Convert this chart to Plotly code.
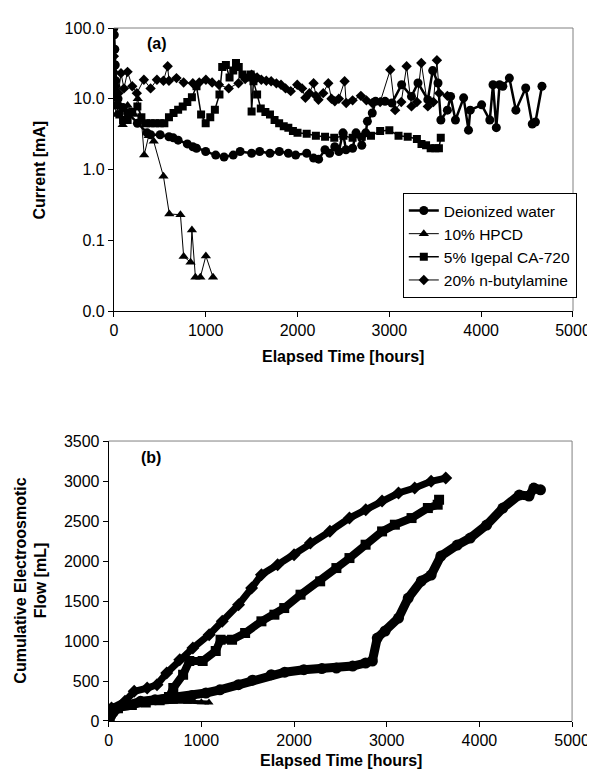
import plotly.graph_objects as go

# ---------- Panel (a): current vs elapsed time ----------
dw_t = [0, 5, 10, 15, 20, 30, 45, 100, 150, 256, 362, 400, 504, 600, 647, 700, 800, 860, 900, 1000,
        1109, 1200, 1300, 1375, 1500, 1588, 1700, 1802, 1900, 1980, 2100, 2175, 2230, 2299, 2350, 2406,
        2450, 2495, 2528, 2600, 2637, 2700, 2743, 2761, 2814, 2850, 2953, 3028, 3134, 3241, 3312, 3419,
        3472, 3530, 3561, 3632, 3667, 3720, 3809, 3862, 3881, 4005, 4094, 4129, 4165, 4200, 4236, 4307,
        4378, 4485, 4556, 4591, 4662]
dw_i = [100, 80, 50, 30, 18, 12, 10, 7.5, 6.3, 4.5, 3.3, 3.1, 3.1, 2.9, 2.8, 2.6, 2.3, 2.1, 2.0, 1.8,
        1.6, 1.5, 1.6, 1.8, 1.7, 1.8, 1.7, 1.8, 1.7, 1.6, 1.7, 1.45, 1.4, 1.9, 1.7, 2.1,
        1.8, 3.3, 1.9, 2.0, 3.3, 2.2, 3.3, 4.8, 6.3, 9.2, 9.2, 8.7, 15.8, 10.8, 16.7, 9.7,
        25, 16.7, 5.0, 6.9, 10.8, 5.0, 10.3, 3.6, 6.9, 8.2, 5.0, 15.8, 3.9, 15.8, 15, 19.6,
        6.9, 14.2, 4.4, 4.7, 15]

hp_t = [0, 10, 25, 50, 96, 150, 220, 260, 300, 330, 380, 434, 540, 604, 725, 760, 835, 850, 888, 942, 1002, 1080]
hp_i = [25, 10, 6, 8, 4.3, 8, 6, 10, 5, 1.6, 3, 2.5, 0.8, 0.235, 0.23, 0.059, 0.049, 0.14, 0.03, 0.03, 0.06, 0.03]

sq_t = [0, 10, 30, 60, 100, 150, 200, 256, 300, 350, 400, 450, 500, 550, 600, 650, 700, 750, 800, 850,
        900, 950, 1000, 1050, 1100, 1150, 1180, 1220, 1260, 1300, 1330, 1360, 1400, 1450, 1490, 1500,
        1520, 1560, 1600, 1650, 1700, 1750, 1800, 1850, 1900, 1950, 2000, 2100, 2200, 2300, 2400, 2500,
        2600, 2700, 2800, 2900, 3000, 3100, 3200, 3300, 3350, 3400, 3450, 3500, 3540, 3560]
sq_i = [30, 12, 8, 6, 5, 5, 6.5, 7.8, 5.5, 4.5, 4.5, 4.5, 4.5, 4.5, 5.5, 6.3, 7.0, 7.8, 9.0, 10.5,
        15, 6, 4.5, 5.5, 7, 11.5, 28, 30, 20, 25, 32, 28, 22, 20, 22, 6.6,
        17.7, 11.5, 7.3, 6.5, 6.0, 5.0, 4.5, 4.1, 3.9, 3.5, 3.3, 3.2, 3.0, 2.9, 2.8, 3.0,
        2.8, 2.9, 3.0, 3.5, 3.6, 3.0, 2.9, 2.7, 2.3, 2.2, 2.0, 2.0, 2.0, 2.8]

dm_t = [0, 20, 50, 78, 110, 149, 200, 250, 327, 400, 469, 540, 586, 600, 682, 760, 860, 930, 1002, 1070,
        1144, 1251, 1357, 1430, 1500, 1560, 1606, 1660, 1713, 1770, 1820, 1870, 1926, 1997, 2050, 2086,
        2130, 2175, 2200, 2228, 2280, 2335, 2370, 2406, 2450, 2513, 2530, 2600, 2690, 2750, 2814, 2900,
        3010, 3063, 3130, 3188, 3241, 3300, 3348, 3419, 3480, 3518, 3543, 3632]
dm_i = [40, 15, 12, 23, 14, 24, 15, 12, 18.6, 14, 18.6, 18, 28.8, 18, 19.6, 17, 16.6, 17, 18.6, 17,
        15.8, 14, 16.6, 19, 21.8, 20, 18.6, 18, 17.7, 16.5, 15.8, 14, 12.8, 15.8, 14, 10.3,
        12, 16.6, 11, 9.7, 12, 16.6, 10, 9.2, 10, 17.7, 8.7, 9.5, 11, 9.5, 8.7, 9,
        25.7, 6.9, 9, 28.8, 7.8, 9, 32, 7.8, 9, 35, 12, 11]

# ---------- Panel (b): cumulative electroosmotic flow ----------
dwb_t = [0, 20, 50, 99, 200, 344, 500, 697, 900, 1049, 1200, 1400, 1550, 1754, 1900, 2106, 2300, 2457,
         2633, 2772, 2845, 2898, 2983, 3127, 3232, 3373, 3479, 3584, 3761, 3901, 4078, 4253, 4430, 4535,
         4588, 4659]
dwb_v = [0, 60, 110, 162, 200, 246, 265, 287, 320, 350, 390, 454, 510, 579, 610, 641, 655, 662,
         687, 725, 750, 1037, 1125, 1287, 1537, 1750, 1825, 2062, 2200, 2287, 2450, 2662, 2825, 2812,
         2912, 2890]

hpb_t = [0, 20, 60, 150, 300, 500, 700, 850, 1000, 1082]
hpb_v = [0, 90, 140, 180, 210, 230, 240, 240, 235, 230]

sqb_t = [0, 30, 100, 250, 400, 550, 650, 697, 803, 870, 1014, 1155, 1207, 1331, 1472, 1648, 1788, 1894,
         2070, 2282, 2457, 2598, 2772, 2950, 3088, 3268, 3444, 3550, 3565]
sqb_v = [0, 120, 160, 200, 230, 260, 300, 412, 579, 750, 750, 875, 1016, 1016, 1100, 1246, 1329, 1412,
         1579, 1746, 1912, 2037, 2204, 2370, 2454, 2537, 2662, 2704, 2766]

dmb_t = [0, 30, 176, 275, 415, 521, 626, 767, 908, 1084, 1225, 1401, 1542, 1648, 1823, 2000, 2176, 2387,
         2598, 2774, 2950, 3127, 3302, 3479, 3637]
dmb_v = [0, 162, 246, 371, 412, 454, 600, 766, 912, 1079, 1246, 1454, 1662, 1829, 1954, 2079, 2225, 2371,
         2537, 2641, 2750, 2850, 2912, 2996, 3037]

names = ["Deionized water", "10% HPCD", "5% Igepal CA-720", "20% n-butylamine"]
x_ticks = [0, 1000, 2000, 3000, 4000, 5000]
ya_vals = [0.01, 0.1, 1, 10, 100]
ya_text = ["0.0", "0.1", "1.0", "10.0", "100.0"]
yb_ticks = [0, 500, 1000, 1500, 2000, 2500, 3000, 3500]

FONT = "Liberation Sans, Arial, sans-serif"
fig = go.Figure()

# panel (a)
fig.add_trace(go.Scatter(x=dw_t, y=dw_i, name=names[0], mode="lines+markers",
                         line=dict(color="black", width=2.5),
                         marker=dict(symbol="circle", size=9, color="black"), xaxis="x", yaxis="y"))
fig.add_trace(go.Scatter(x=hp_t, y=hp_i, name=names[1], mode="lines+markers",
                         line=dict(color="black", width=1),
                         marker=dict(symbol="triangle-up", size=9, color="black"), xaxis="x", yaxis="y"))
fig.add_trace(go.Scatter(x=sq_t, y=sq_i, name=names[2], mode="lines+markers",
                         line=dict(color="black", width=1.5),
                         marker=dict(symbol="square", size=8, color="black"), xaxis="x", yaxis="y"))
fig.add_trace(go.Scatter(x=dm_t, y=dm_i, name=names[3], mode="lines+markers",
                         line=dict(color="black", width=1),
                         marker=dict(symbol="diamond", size=8, color="black"), xaxis="x", yaxis="y"))

# panel (b)
for tt, vv, sym, w, sz in [(dwb_t, dwb_v, "circle", 9, 11), (hpb_t, hpb_v, "triangle-up", 4, 8),
                           (sqb_t, sqb_v, "square", 8, 10), (dmb_t, dmb_v, "diamond", 7, 10)]:
    fig.add_trace(go.Scatter(x=tt, y=vv, mode="lines+markers", showlegend=False,
                             line=dict(color="black", width=w),
                             marker=dict(symbol=sym, size=sz, color="black"), xaxis="x2", yaxis="y2"))

axis_common = dict(showgrid=False, zeroline=False, showline=True, linecolor="black", linewidth=1,
                   ticks="outside", ticklen=5, tickcolor="black",
                   tickfont=dict(family=FONT, size=16, color="black"))

fig.update_layout(
    width=595, height=772,
    margin=dict(l=100, r=20, t=20, b=59),
    paper_bgcolor="white", plot_bgcolor="white",
    font=dict(family=FONT, size=16, color="black"),
    xaxis=dict(domain=[0.0126, 1.0], range=[0, 5000], tickvals=x_ticks, anchor="y", **axis_common),
    yaxis=dict(domain=[0.5916, 1.0], type="log", range=[-2, 2], tickvals=ya_vals, ticktext=ya_text,
               anchor="x", **axis_common),
    xaxis2=dict(domain=[0.0015, 0.998], range=[0, 5000], tickvals=x_ticks, anchor="y2", **axis_common),
    yaxis2=dict(domain=[0.0, 0.404], range=[0, 3500], tickvals=yb_ticks, anchor="x2", **axis_common),
    legend=dict(x=0.634, y=0.762, xanchor="left", yanchor="top", bgcolor="white",
                bordercolor="black", borderwidth=1, font=dict(family=FONT, size=15.5, color="black"),
                tracegroupgap=0, itemsizing="trace"),
    showlegend=True,
)

# gray top / right borders of plot areas
for xr, yr in [("x domain", "y domain"), ("x2 domain", "y2 domain")]:
    fig.add_shape(type="line", xref=xr, yref=yr, x0=0, x1=1, y0=1, y1=1, line=dict(color="#808080", width=1))
    fig.add_shape(type="line", xref=xr, yref=yr, x0=1, x1=1, y0=0, y1=1, line=dict(color="#808080", width=1))

C = dict(xanchor="center", yanchor="middle", showarrow=False, font=dict(size=16))
ann = [
    dict(text="<b>(a)</b>", xref="paper", yref="paper", x=(150 - 100) / 475, y=(713 - 36) / 693, **C),
    dict(text="<b>(b)</b>", xref="paper", yref="paper", x=(144 - 100) / 475, y=(713 - 450) / 693, **C),
    dict(text="<b>Current [mA]</b>", xref="paper", yref="paper", x=(30 - 100) / 475, y=(713 - 162) / 693,
         textangle=-90, **C),
    dict(text="<b>Elapsed Time [hours]</b>", xref="paper", yref="paper", x=(340 - 100) / 475,
         y=(713 - 349) / 693, **C),
    dict(text="<b>Cumulative Electroosmotic<br>Flow [mL]</b>", xref="paper", yref="paper",
         x=(21 - 100) / 475, y=(713 - 573) / 693, textangle=-90, **C),
    dict(text="<b>Elapsed Time [hours]</b>", xref="paper", yref="paper", x=(338 - 100) / 475,
         y=(713 - 752) / 693, **C),
]
fig.update_layout(annotations=ann)

fig.write_html("out.html")
